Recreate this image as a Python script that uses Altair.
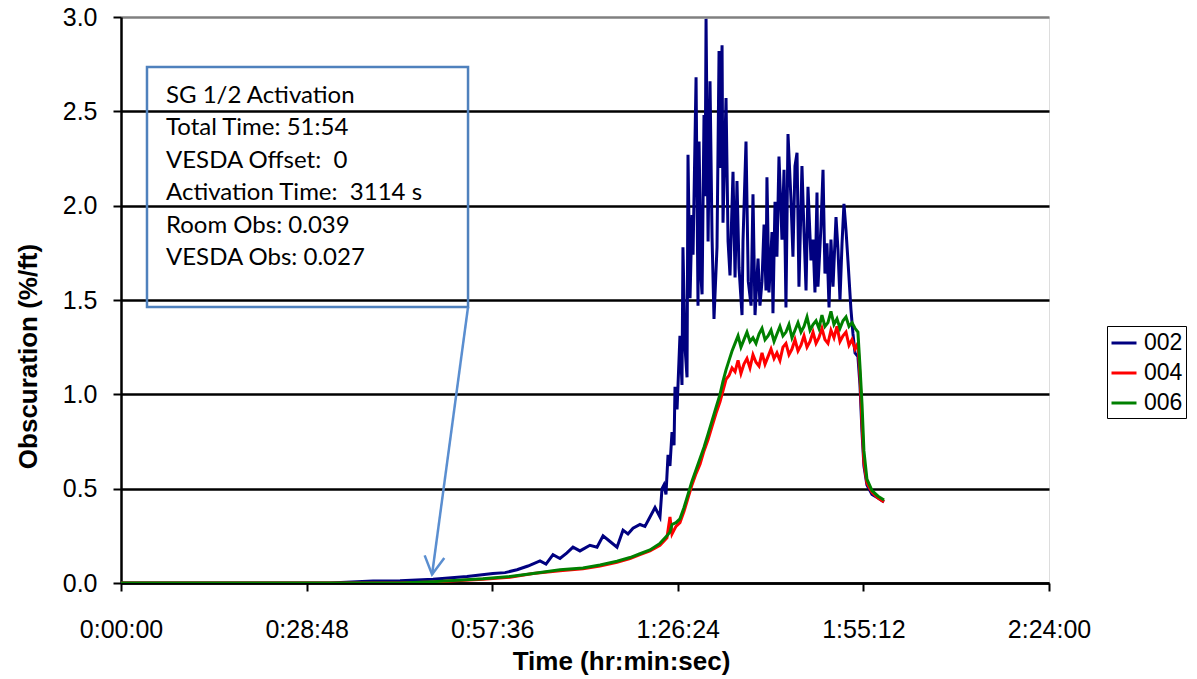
import altair as alt
import pandas as pd

# Time axis in seconds; obscuration in %/ft
t_002 = [0, 1946, 2346, 2598, 2905, 3221, 3463, 3575, 3687, 3789,
         3901, 3957, 4022, 4087, 4152, 4208, 4273, 4366, 4432, 4488,
         4553, 4618, 4674, 4720, 4767, 4832, 4878, 4925, 4972, 5000,
         5018, 5037, 5055, 5074, 5093, 5111, 5130, 5149, 5158, 5177,
         5204, 5223, 5232, 5251, 5270, 5279, 5298, 5316, 5326, 5354,
         5372, 5382, 5400, 5410, 5428, 5438, 5447, 5466, 5484, 5503,
         5521, 5549, 5568, 5577, 5596, 5605, 5633, 5652, 5670, 5698,
         5717, 5735, 5754, 5782, 5791, 5819, 5840, 5866, 5884, 5903,
         5931, 5949, 5968, 5987, 6005, 6014, 6033, 6061, 6070, 6089,
         6107, 6126, 6154, 6173, 6191, 6210, 6238, 6256, 6275, 6294,
         6312, 6340, 6359, 6378, 6396, 6424, 6443, 6461, 6480, 6489,
         6517, 6536, 6554, 6573, 6592, 6610, 6629, 6657, 6675, 6694,
         6713, 6731, 6750, 6768, 6796, 6815, 6834, 6861, 6880, 6899,
         6917, 6945, 6992, 7048, 7104]
v_002 = [0, 0.0, 0.01, 0.012, 0.02, 0.035, 0.05, 0.055, 0.07, 0.09,
         0.117, 0.10, 0.15, 0.13, 0.16, 0.19, 0.17, 0.20, 0.19, 0.25,
         0.22, 0.19, 0.28, 0.26, 0.29, 0.31, 0.30, 0.35, 0.40, 0.37,
         0.35, 0.50, 0.52, 0.47, 0.68, 0.62, 0.80, 0.73, 1.04, 0.92,
         1.31, 1.05, 1.78, 1.25, 1.09, 2.27, 1.51, 1.95, 1.74, 2.68,
         1.47, 2.34, 1.62, 1.53, 2.48, 2.05, 2.99, 1.81, 2.66, 1.83,
         1.40, 1.78, 2.82, 2.20, 2.85, 1.91, 2.57, 1.81, 1.63, 2.18,
         1.62, 2.13, 1.67, 1.42, 1.81, 2.34, 1.60, 1.47, 2.06, 1.42,
         1.72, 1.47, 1.60, 1.90, 1.55, 2.15, 1.54, 1.86, 1.43, 2.02,
         1.73, 2.26, 1.82, 2.19, 1.46, 2.38, 2.03, 1.73, 2.21, 2.28,
         1.57, 2.21, 1.86, 1.55, 2.10, 1.71, 1.82, 1.54, 2.07, 1.57,
         1.89, 2.19, 1.64, 1.80, 1.46, 1.82, 1.57, 1.94, 1.77, 1.50,
         1.80, 2.01, 1.87, 1.71, 1.45, 1.32, 1.22, 1.20, 1.05, 0.80,
         0.62, 0.52, 0.47, 0.45, 0.43]

t_004_006 = [0, 2598, 2905, 3370, 3622, 3836, 4087, 4301, 4460, 4618,
             4739, 4832, 4925, 5018, 5083, 5111, 5130, 5167, 5204, 5242,
             5279, 5316, 5354, 5391, 5428, 5466, 5503, 5540, 5577, 5605,
             5633, 5661, 5689, 5717, 5745, 5772, 5800, 5828, 5856, 5884,
             5912, 5940, 5968, 5996, 6024, 6052, 6080, 6107, 6135, 6163,
             6191, 6219, 6247, 6275, 6303, 6331, 6359, 6387, 6415, 6443,
             6471, 6498, 6526, 6554, 6582, 6610, 6638, 6666, 6694, 6722,
             6750, 6778, 6806, 6834, 6861, 6880, 6899, 6917, 6945, 6992,
             7048, 7104]
v_004 = [0, 0.0, 0.005, 0.02, 0.03, 0.05, 0.065, 0.075, 0.09, 0.11,
         0.13, 0.15, 0.17, 0.20, 0.24, 0.35, 0.26, 0.30, 0.32, 0.38,
         0.45, 0.52, 0.58, 0.63, 0.70, 0.76, 0.83, 0.90, 0.96, 1.02,
         1.08, 1.10, 1.14, 1.12, 1.18, 1.11, 1.16, 1.19, 1.14, 1.21,
         1.17, 1.15, 1.22, 1.16, 1.20, 1.24, 1.19, 1.22, 1.18, 1.25,
         1.27, 1.21, 1.24, 1.29, 1.23, 1.26, 1.31, 1.25, 1.28, 1.33,
         1.27, 1.30, 1.35, 1.29, 1.27, 1.34, 1.30, 1.36, 1.28, 1.31,
         1.33, 1.26, 1.29, 1.24, 1.27, 1.10, 0.85, 0.64, 0.53, 0.48,
         0.45, 0.43]
v_006 = [0, 0.0, 0.007, 0.022, 0.035, 0.05, 0.07, 0.08, 0.095, 0.115,
         0.135, 0.155, 0.175, 0.21, 0.25, 0.27, 0.31, 0.32, 0.34, 0.40,
         0.47, 0.54, 0.60, 0.66, 0.72, 0.79, 0.86, 0.93, 1.00, 1.07,
         1.13, 1.18, 1.23, 1.27, 1.31, 1.25, 1.29, 1.33, 1.28, 1.30,
         1.27, 1.32, 1.35, 1.29, 1.31, 1.34, 1.28, 1.32, 1.36, 1.31,
         1.33, 1.37, 1.30, 1.34, 1.38, 1.33, 1.36, 1.41, 1.34, 1.37,
         1.39, 1.35, 1.42, 1.36, 1.38, 1.44, 1.37, 1.40, 1.35, 1.39,
         1.41, 1.36, 1.38, 1.35, 1.33, 1.15, 0.95, 0.70, 0.55, 0.49,
         0.46, 0.44]

series_names = ["002", "004", "006"]
series_colors = ["#000080", "#FF0000", "#008000"]

x_ticks = [0, 1728, 3456, 5184, 6912, 8640]
y_ticks = [0.0, 0.5, 1.0, 1.5, 2.0, 2.5, 3.0]

note_lines = [
    "SG 1/2 Activation",
    "Total Time: 51:54",
    "VESDA Offset:\u00a0 0",
    "Activation Time:\u00a0 3114 s",
    "Room Obs: 0.039",
    "VESDA Obs: 0.027",
]
# annotation box corners (time s, obscuration) and arrow end points
box_t = [242, 3231]
box_v = [1.463, 2.735]
arrow_t = [3231, 2896]
arrow_v = [1.463, 0.045]

df = pd.concat([
    pd.DataFrame({"t": t_002, "v": v_002, "series": "002"}),
    pd.DataFrame({"t": t_004_006, "v": v_004, "series": "004"}),
    pd.DataFrame({"t": t_004_006, "v": v_006, "series": "006"}),
], ignore_index=True)

hms = ("floor(datum.value/3600) + ':' + (floor((datum.value%3600)/60) < 10 ? '0' : '') + "
       "floor((datum.value%3600)/60) + ':' + ((datum.value%60) < 10 ? '0' : '') + (datum.value%60)")

FONT = "Arial, Liberation Sans, sans-serif"

x_scale = alt.Scale(domain=[0, 8640], nice=False, zero=False)
y_scale = alt.Scale(domain=[0, 3], nice=False)

x_axis = alt.Axis(
    values=x_ticks, labelExpr=hms, title="Time (hr:min:sec)", grid=False,
    labelFont=FONT, labelFontSize=25, labelColor="black", labelPadding=26,
    tickSize=8, tickWidth=2, tickColor="black", domainColor="black", domainWidth=2.5,
    titleFont=FONT, titleFontSize=26, titleFontWeight="bold", titleColor="black",
    titleX=500, titleY=78, titleBaseline="middle", labelFlush=False,
)
y_axis = alt.Axis(
    values=y_ticks, format=".1f", title="Obscuration (%/ft)",
    grid=True, gridColor={"expr": "datum.value >= 3 ? '#808080' : 'black'"}, gridWidth=2.5,
    labelFont=FONT, labelFontSize=25, labelColor="black", labelPadding=16,
    tickSize=8, tickWidth=2, tickColor="black", domainColor="black", domainWidth=2.5,
    titleFont=FONT, titleFontSize=26, titleFontWeight="bold", titleColor="black",
    titleX=-93, titleY=339, titleAngle=270, titleBaseline="middle", titleAlign="center",
    labelFlush=False,
)

lines = alt.Chart(df).mark_line(strokeWidth=3, clip=True).encode(
    x=alt.X("t:Q", scale=x_scale, axis=x_axis),
    y=alt.Y("v:Q", scale=y_scale, axis=y_axis),
    color=alt.Color(
        "series:N",
        scale=alt.Scale(domain=series_names, range=series_colors),
        legend=alt.Legend(
            title=None, orient="none", legendX=986, legendY=309,
            symbolType="stroke", symbolSize=625, symbolStrokeWidth=3,
            labelFont=FONT, labelFontSize=23, labelColor="black",
            labelOffset=6, rowPadding=4, padding=3,
            strokeColor="black", fillColor="white",
        ),
    ),
)

box = alt.Chart(pd.DataFrame({"t0": [box_t[0]], "t1": [box_t[1]], "v0": [box_v[0]], "v1": [box_v[1]]})).mark_rect(
    fill=None, stroke="#4F81BD", strokeWidth=2.5
).encode(x="t0:Q", x2="t1:Q", y="v0:Q", y2="v1:Q")

arrow = alt.Chart(pd.DataFrame({"t0": [arrow_t[0]], "t1": [arrow_t[1]], "v0": [arrow_v[0]], "v1": [arrow_v[1]]})).mark_rule(
    color="#5A8ED0", strokeWidth=2.5
).encode(x="t0:Q", x2="t1:Q", y="v0:Q", y2="v1:Q")

head = alt.Chart(pd.DataFrame({"t": [arrow_t[1]], "v": [arrow_v[1]]})).mark_point(
    shape="M -0.55 -1 L 0 0 L 0.55 -1", filled=False, size=1296, angle=7.7,
    stroke="#5A8ED0", strokeWidth=2.5, opacity=1,
).encode(x="t:Q", y="v:Q")

note = alt.Chart(pd.DataFrame({"t": [419], "v": [2.544], "txt": [note_lines]})).mark_text(
    align="left", baseline="alphabetic", font="Lato", fontSize=24, lineHeight=32.4, color="black"
).encode(x="t:Q", y="v:Q", text="txt")

chart = alt.layer(lines, box, arrow, head, note).properties(
    width=928, height=566,
    autosize=alt.AutoSizeParams(type="none"),
    padding={"left": 121, "top": 17, "right": 148, "bottom": 96},
).configure_view(stroke="#808080", strokeWidth=3).configure(background="white")

chart.save("out.html", embed_options={"renderer": "svg", "actions": False})
